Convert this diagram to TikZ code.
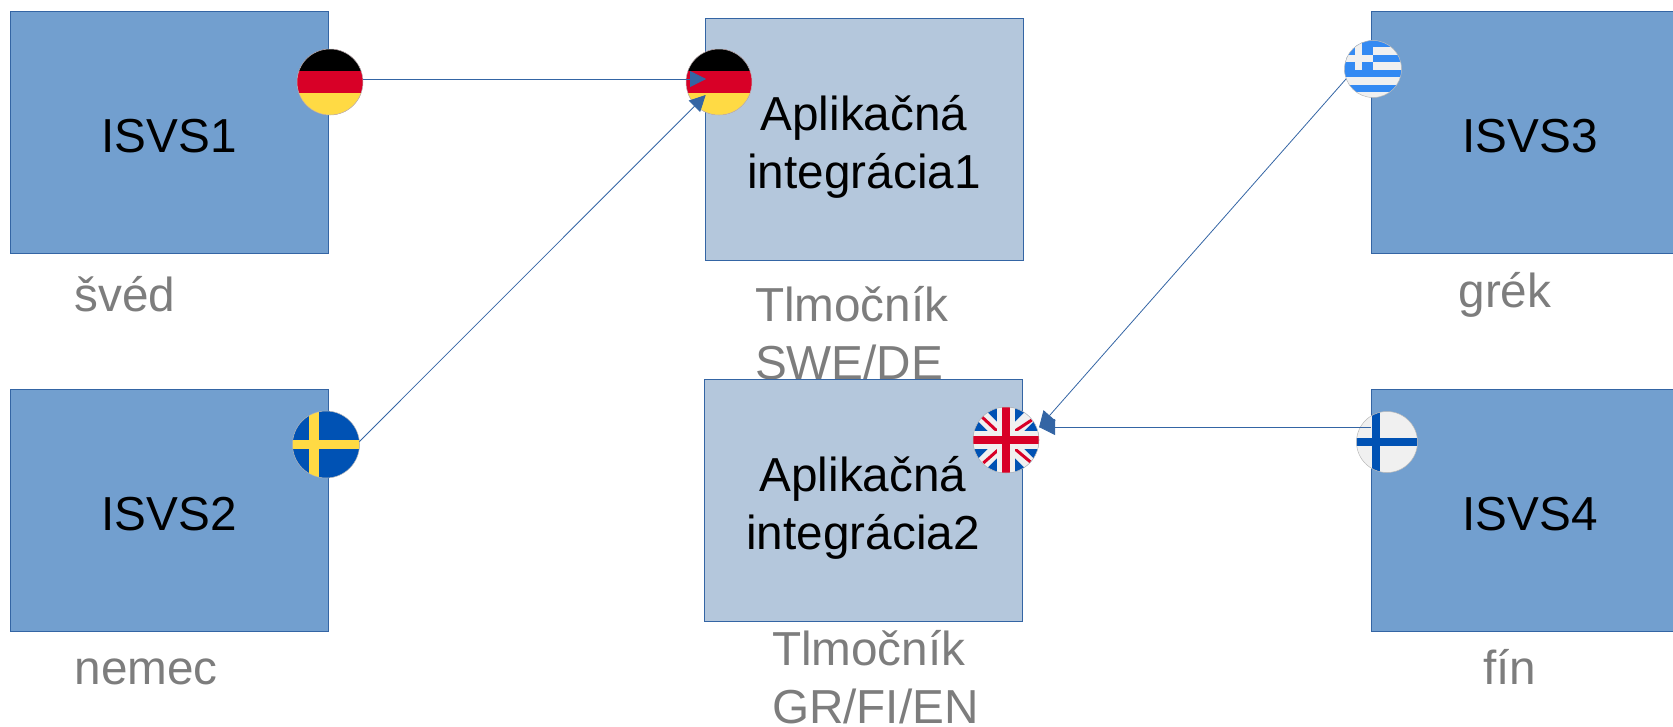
\documentclass[tikz,border=0pt]{standalone}
\usepackage{fontspec}
\setmainfont{Liberation Sans}
\usetikzlibrary{arrows.meta}
\definecolor{isvsblue}{HTML}{729FCF}
\definecolor{appblue}{HTML}{B4C7DC}
\definecolor{lineblue}{HTML}{3465A4}
\definecolor{flagred}{HTML}{D80027}
\definecolor{flaggold}{HTML}{FFDA44}
\definecolor{flagblue}{HTML}{0052B4}
\definecolor{flagsky}{HTML}{338AF3}
\definecolor{flagwhite}{HTML}{F0F0F0}
\tikzset{
        treenode/.style={align=center,inner sep=0pt,outer sep=0pt},
        % Blue boxes
        node_isvs/.style={treenode, rectangle, black, draw=lineblue, fill=isvsblue, minimum width=318pt, minimum height=242pt, text height=41pt},
        node_app/.style={treenode, rectangle, black, draw=lineblue, fill=appblue, minimum width=318pt, minimum height=242pt, text height=108pt},
        % Grey captions
        node_note/.style={inner sep=0pt, outer sep=0pt, align=left, anchor=base west, gray!98!black},
        % Arrows
        conn/.style={draw=lineblue, line width=0.8pt, -{Triangle[length=16pt,width=16pt,fill=lineblue]}},
        % Round flags
        flag/.style={treenode, circle, draw=gray!55, line width=0.5pt, minimum size=#1},
        flag_de/.style={flag=66pt, path picture={
                \fill[flagred] (-34,-34) rectangle (34,34);
                \fill[black] (-34,-34) rectangle (34,-11);
                \fill[flaggold] (-34,11) rectangle (34,34);
        }},
        flag_se/.style={flag=67pt, path picture={
                \fill[flagblue] (-34,-34) rectangle (34,34);
                \fill[flaggold] (-34,-4.7) rectangle (34,4.7);
                \fill[flaggold] (-16.7,-34) rectangle (-7.3,34);
        }},
        flag_gr/.style={flag=57pt, path picture={
                \fill[flagwhite] (-30,-30) rectangle (30,30);
                \foreach \y in {-30,-14.3,0.7,15.7}
                    \fill[flagsky] (-30,\y) rectangle (30,\y+7.6);
                \fill[flagsky] (-30,-30) rectangle (0,8);
                \fill[flagwhite] (-30,-14.3) rectangle (0,-7);
                \fill[flagwhite] (-18.3,-30) rectangle (-10.7,0.7);
        }},
        flag_fi/.style={flag=61pt, path picture={
                \fill[flagwhite] (-32,-32) rectangle (32,32);
                \fill[flagblue] (-32,-4) rectangle (32,4);
                \fill[flagblue] (-15.3,-32) rectangle (-7,32);
        }},
        flag_uk/.style={flag=66pt, path picture={
                \fill[flagblue] (-34,-34) rectangle (34,34);
                \draw[flagwhite, line width=13pt] (-34,-34) -- (34,34) (-34,34) -- (34,-34);
                \draw[flagred, line width=3pt] (-24,-23) -- (-9,-9) (25.7,-20) -- (9,-9) (-22.7,23) -- (-8,10) (25.7,23) -- (9,9);
                \fill[flagwhite] (-34,-8.7) rectangle (34,8.7);
                \fill[flagwhite] (-8.7,-34) rectangle (8.7,34);
                \fill[flagred] (-34,-4.2) rectangle (34,4.2);
                \fill[flagred] (-4.2,-34) rectangle (4.2,34);
        }}
}

\begin{document}
\begin{tikzpicture}[x=1pt, y=-1pt, every node/.append style={font=\fontsize{47.7}{58}\selectfont}]
            \useasboundingbox (0,0) rectangle (1673,726);
            \clip (0,0) rectangle (1673,726);
            % captions go first, the lower box covers one of them
            \node[node_note] (note_sved) at (74.5,311.5) {švéd};
            \node[node_note] (note_nemec) at (74.5,684.5) {nemec};
            \node[node_note] (note_grek) at (1458.5,307) {grék};
            \node[node_note] (note_fin) at (1483,684.5) {fín};
            \node[node_note] (note_tlm1) at (755,379.5) {Tlmočník\\SWE/DE};
            \node[node_note] (note_tlm2) at (772,723) {Tlmočník\\GR/FI/EN};

            \node[node_isvs] (isvs1) at (169,132) {ISVS1};
            \node[node_isvs] (isvs2) at (169,510) {ISVS2};
            \node[node_isvs] (isvs3) at (1530,132) {ISVS3};
            \node[node_isvs] (isvs4) at (1530,510) {ISVS4};
            \node[node_app] (app1) at (864,139) {Aplikačná\\integrácia1};
            \node[node_app] (app2) at (863,500) {Aplikačná\\integrácia2};

            \node[flag_de] (flag_de1) at (330,82) {};
            \node[flag_de] (flag_de2) at (719,82) {};
            \node[flag_se] (flag_se) at (326,444.5) {};
            \node[flag_gr] (flag_gr) at (1373,69) {};
            \node[flag_uk] (flag_uk) at (1006,440) {};
            \node[flag_fi] (flag_fi) at (1387,442) {};

            \coordinate (tip_de1) at (706,79);
            \coordinate (tip_de2) at (705.7,95);
            \coordinate (tip_uk1) at (1039,427.5);
            \coordinate (tip_uk2) at (1039,427);
            \draw[conn] (flag_de1.east |- tip_de1) -- (tip_de1);
            \draw[conn] (flag_se.5) -- (tip_de2);
            \draw[conn] (flag_gr.200) -- (tip_uk1);
            \draw[conn] (isvs4.west |- tip_uk2) -- (tip_uk2);
\end{tikzpicture}
\end{document}
